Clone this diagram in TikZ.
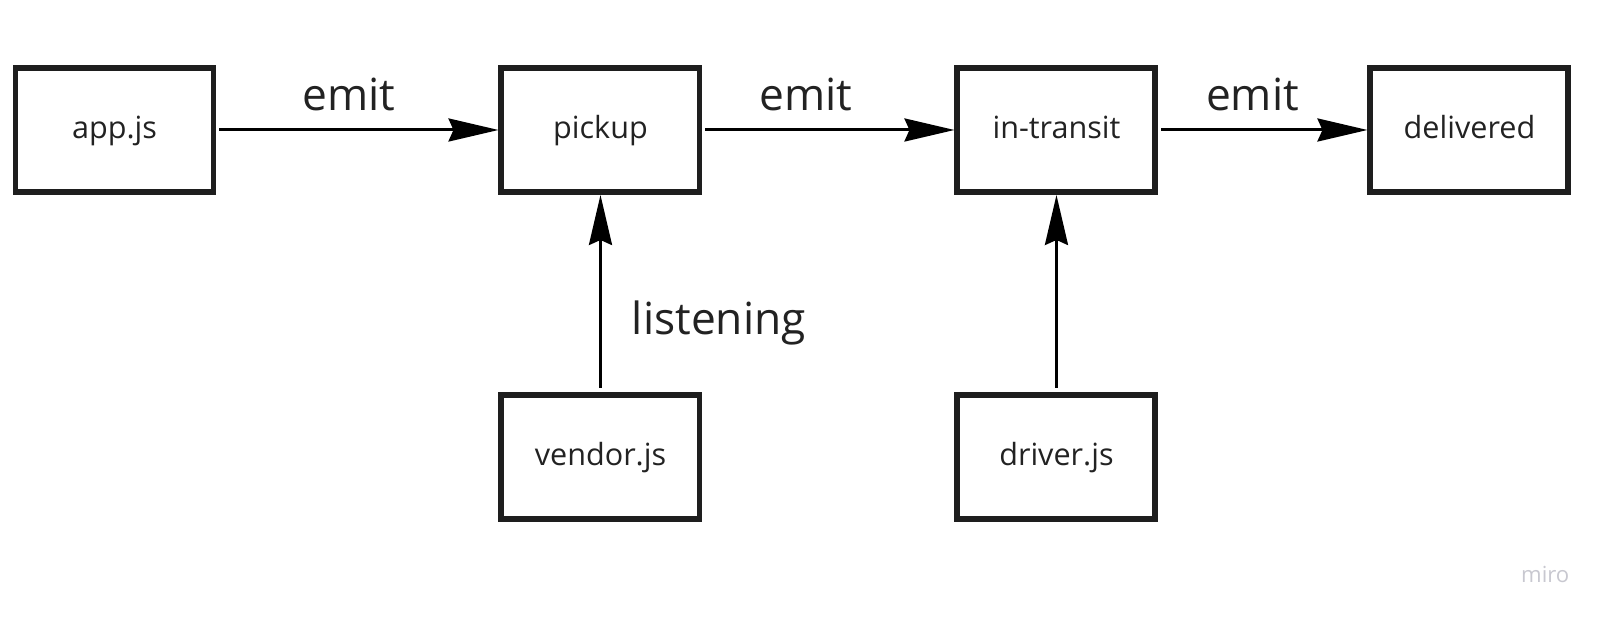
\documentclass[tikz,border=0pt]{standalone}
\usepackage{fontspec}
\setmainfont{Open Sans}
\usepackage{xcolor}
\definecolor{boxline}{RGB}{30, 30, 30}
\definecolor{inktext}{RGB}{34, 34, 34}
\definecolor{watermark}{RGB}{200, 200, 208}
\usetikzlibrary{arrows.meta, positioning}

\begin{document}
\begin{tikzpicture}[
    module/.style={rectangle, draw=boxline, line width=1.7pt, fill=white,
      minimum width=1.98cm, minimum height=1.24cm, align=center,
      text height=0.75em, text depth=0.25em,
      text=inktext, font=\fontsize{8.7pt}{10pt}\selectfont},
    event/.style={inner sep=0pt, text=inktext, font=\fontsize{12.6pt}{15pt}\selectfont},
    flow/.style={-{Stealth[length=5mm, width=2.3mm, inset=0.5mm]}, line width=0.85pt, color=black}
  ]
    \useasboundingbox (0,0) rectangle (16.09,6.21);

    \node[module] (app) at (1.145,4.91) {app.js};
    \node[module, right=2.82cm of app] (pickup) {pickup};
    \node[module, right=2.52cm of pickup] (transit) {in-transit};
    \node[module, right=2.09cm of transit] (delivered) {delivered};
    \node[module, below=1.97cm of pickup] (vendor) {vendor.js};
    \node[module, below=1.97cm of transit] (driver) {driver.js};

    \draw[flow, shorten <=0.03cm] (app) -- node[event, above=0.18cm, pos=0.47] {emit} (pickup);
    \draw[flow, shorten <=0.03cm] (pickup) -- node[event, above=0.18cm, pos=0.41] {emit} (transit);
    \draw[flow, shorten <=0.03cm] (transit) -- node[event, above=0.18cm, pos=0.45] {emit} (delivered);
    \draw[flow, shorten <=0.04cm] (vendor) -- node[event, right=0.3cm, pos=0.35] {listening} (pickup);
    \draw[flow, shorten <=0.04cm] (driver) -- (transit);

    \node[anchor=base east, inner sep=0pt, text=watermark,
      font=\fontsize{6.3pt}{7pt}\selectfont] (brand) at (15.70,0.38) {miro};
  \end{tikzpicture}
\end{document}
